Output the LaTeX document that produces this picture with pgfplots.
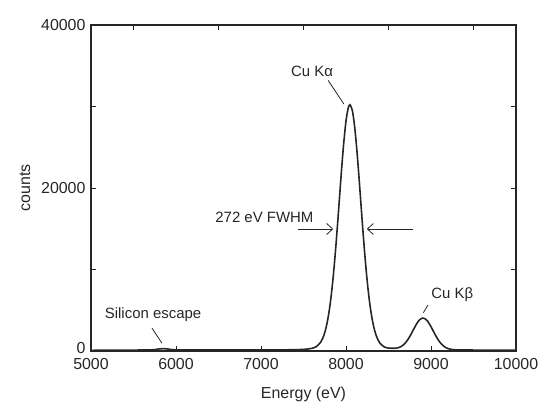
\documentclass[border=0pt]{standalone}
\usepackage{fontspec}
\setmainfont{Liberation Sans}
\usepackage{pgfplots}
\pgfplotsset{compat=1.18}
\usetikzlibrary{arrows.meta}

\definecolor{ink}{HTML}{262626}

\begin{document}
\begin{tikzpicture}
\begin{axis}[
  scale only axis, width=425bp, height=326bp,
  xmin=5000, xmax=10000, ymin=0, ymax=40000,
  xtick={5000,6000,...,10000}, xtick pos=lower,
  ytick={0,20000,40000}, yticklabels={\raisebox{6bp}{0},20000,40000},
  minor ytick={10000,30000}, ytick pos=both,
  tick align=inside, major tick length=5bp, minor tick length=5bp,
  scaled ticks=false,
  /pgf/number format/1000 sep={}, /pgf/number format/assume math mode=true,
  font=\fontsize{16}{18}\selectfont, ticklabel style={font=\fontsize{16}{18}\selectfont, text=ink},
  xticklabel style={yshift=-4bp},
  yticklabel style={xshift=-2bp},
  axis line style={ink, line width=1.1pt}, every tick/.style={ink, line width=1pt},
  xlabel={Energy (eV)}, ylabel={counts},
  label style={text=ink},
  xlabel style={yshift=-10bp},
  ylabel style={yshift=4bp},
]
\addplot[ink, line width=1.6pt, smooth] table {
x y
5000 80
5100 95
5200 100
5300 105
5400 110
5500 115
5600 120
5700 135
5750 170
5800 250
5850 290
5900 250
5950 170
6000 140
6100 125
6200 120
6400 120
6600 120
6800 125
7000 130
7200 135
7300 145
7400 160
7450 175
7500 195
7550 242
7600 331
7650 536
7700 1046
7725 1530
7750 2256
7775 3309
7800 4772
7825 6712
7850 9169
7875 12119
7900 15466
7925 19025
7950 22544
7975 25704
8000 28205
8025 29766
8047 30220
8075 29488
8100 27682
8125 25000
8150 21717
8175 18168
8200 14637
8225 11371
8250 8533
8275 6200
8300 4379
8325 3021
8350 2057
8375 1396
8400 958
8450 502
8500 360
8550 330
8600 360
8650 560
8700 1002
8750 1775
8800 2753
8850 3635
8900 4047
8950 3787
9000 2982
9050 1986
9100 1138
9150 584
9200 296
9250 176
9300 135
9400 120
9600 115
9800 110
10000 105
};
\node[text=ink, font=\fontsize{15}{17}\selectfont] at (axis cs:7600,34300) {Cu Kα};
\draw[ink, line width=0.8pt] (axis cs:7790,33200) -- (axis cs:7975,30300);
\node[text=ink, font=\fontsize{15}{17}\selectfont] at (axis cs:7040,16350) {272 eV FWHM};
\draw[ink, line width=0.8pt, -{Straight Barb[length=6bp,width=11bp]}] (axis cs:7435,14970) -- (axis cs:7850,14970);
\draw[ink, line width=0.8pt, -{Straight Barb[length=6bp,width=11bp]}] (axis cs:8790,14970) -- (axis cs:8245,14970);
\node[text=ink, font=\fontsize{15}{17}\selectfont] at (axis cs:5730,4450) {Silicon escape};
\draw[ink, line width=0.8pt] (axis cs:5718,2800) -- (axis cs:5835,950);
\node[text=ink, font=\fontsize{15}{17}\selectfont] at (axis cs:9250,6900) {Cu Kβ};
\draw[ink, line width=0.8pt] (axis cs:8965,5650) -- (axis cs:8910,4700);
\end{axis}
\begin{axis}[
  scale only axis, width=425bp, height=326bp,
  xmin=5000, xmax=10000, ymin=0, ymax=40000,
  hide y axis, axis x line*=top, scaled ticks=false,
  xtick={5500,6500,...,9500}, xticklabels={},
  tick align=inside, major tick length=5bp,
  axis line style={ink, line width=1.1pt}, every tick/.style={ink, line width=1pt},
]
\end{axis}
\path ([shift={(-91bp,-55bp)}]current axis.south west) rectangle ([shift={(27bp,25bp)}]current axis.north east);
\end{tikzpicture}
\end{document}
